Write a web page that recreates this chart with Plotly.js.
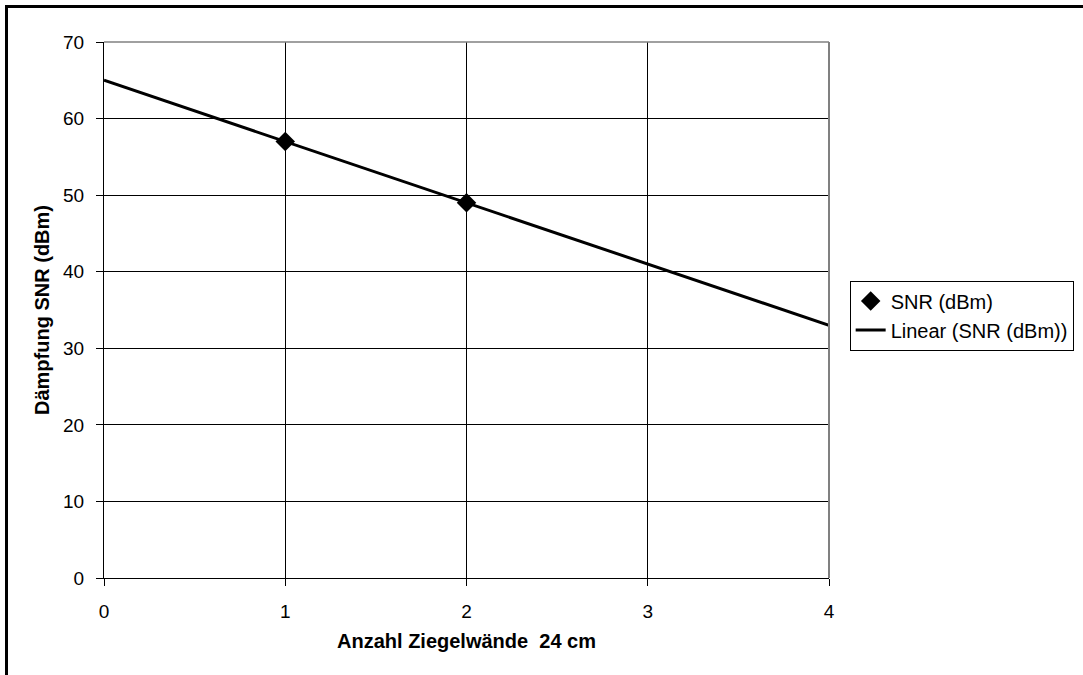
<!DOCTYPE html>
<html>
<head>
<meta charset="utf-8">
<script src="https://cdn.plot.ly/plotly-3.0.1.min.js"></script>
<style>
  html, body { margin: 0; padding: 0; width: 1083px; height: 675px; overflow: hidden; background: #fff; }
  #chart { position: absolute; left: 0; top: 0; width: 1083px; height: 675px; }
  #frame { position: absolute; left: 5px; top: 5px; width: 1100px; height: 700px;
           border-left: 3px solid #000; border-top: 3px solid #000; pointer-events: none; }
</style>
</head>
<body>
<div id="chart"></div>
<div id="frame"></div>
<script>
// Data
const wallCounts = [1, 2];            // Anzahl Ziegelwände 24 cm
const snrValues = [57, 49];           // SNR (dBm)
const trendX = [0, 4];                // linear trendline extent
const trendY = [65, 33];              // Linear (SNR (dBm))
const xTicks = [0, 1, 2, 3, 4];
const yTicks = [0, 10, 20, 30, 40, 50, 60, 70];

const FONT = 'Liberation Sans, Arial, sans-serif';

const traces = [
  {
    type: 'scatter', mode: 'lines', name: 'Linear (SNR (dBm))',
    x: trendX, y: trendY,
    line: { color: '#000', width: 3 },
    legendrank: 2, hoverinfo: 'skip'
  },
  {
    type: 'scatter', mode: 'markers', name: 'SNR (dBm)',
    x: wallCounts, y: snrValues,
    marker: { symbol: 'diamond', size: 15, color: '#000' },
    legendrank: 1
  }
];

const layout = {
  width: 1083, height: 675,
  margin: { l: 104, r: 254, t: 42, b: 97, pad: 0, autoexpand: false },
  paper_bgcolor: '#fff', plot_bgcolor: '#fff',
  font: { family: FONT, color: '#000', size: 19 },
  showlegend: true,
  xaxis: {
    range: [0, 4], tickvals: xTicks, ticktext: xTicks.map(String),
    showgrid: true, gridcolor: '#000', gridwidth: 1,
    zeroline: false, showline: true, linecolor: '#000', linewidth: 1,
    ticks: 'outside', ticklen: 7, tickcolor: '#000', tickwidth: 1,
    ticklabelstandoff: 9,
    tickfont: { family: FONT, size: 19, color: '#000' },
    title: { text: 'Anzahl Ziegelwände \u00a024 cm', font: { family: FONT, size: 20, weight: 'bold', color: '#000' }, standoff: 13 },
    automargin: false, fixedrange: true
  },
  yaxis: {
    range: [0, 70], tickvals: yTicks, ticktext: yTicks.map(String),
    showgrid: true, gridcolor: '#000', gridwidth: 1,
    zeroline: false, showline: true, linecolor: '#000', linewidth: 1,
    ticks: 'outside', ticklen: 7, tickcolor: '#000', tickwidth: 1,
    ticklabelstandoff: 8,
    tickfont: { family: FONT, size: 19, color: '#000' },
    title: { text: 'Dämpfung SNR (dBm)', font: { family: FONT, size: 20, weight: 'bold', color: '#000' }, standoff: 8 },
    automargin: false, fixedrange: true
  },
  shapes: [
    { type: 'line', xref: 'paper', yref: 'paper', x0: 0, x1: 1, y0: 1, y1: 1, line: { color: '#808080', width: 1.5 }, layer: 'above' },
    { type: 'line', xref: 'paper', yref: 'paper', x0: 1, x1: 1, y0: 0, y1: 1, line: { color: '#808080', width: 2 }, layer: 'above' }
  ],
  legend: {
    x: 1.0285, y: 0.555, xanchor: 'left', yanchor: 'top',
    bordercolor: '#000', borderwidth: 1, bgcolor: '#fff',
    font: { family: FONT, size: 20, color: '#000' },
    itemwidth: 30, tracegroupgap: 0
  }
};

Plotly.newPlot('chart', traces, layout, { displayModeBar: false, staticPlot: true });
</script>
</body>
</html>
